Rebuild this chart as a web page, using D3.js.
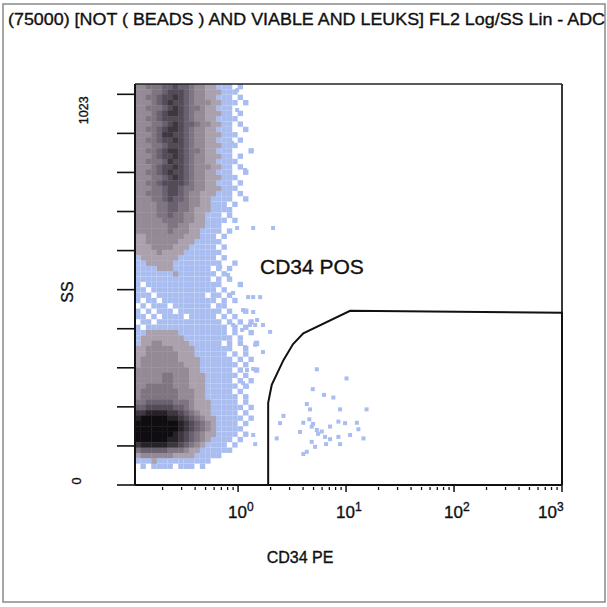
<!DOCTYPE html>
<html>
<head>
<meta charset="utf-8">
<script src="https://cdn.jsdelivr.net/npm/d3@7"></script>
<style>
  html, body { margin: 0; padding: 0; background: #fff; }
  svg { display: block; font-family: "Liberation Sans", Arial, sans-serif; }
  text { fill: #111; stroke: #111; stroke-width: 0.35px; }
</style>
</head>
<body>
<div id="chart"></div>
<script>
// chart texts
var title = "(75000) [NOT ( BEADS ) AND VIABLE AND LEUKS] FL2 Log/SS Lin - ADC";
var xLabel = "CD34 PE";
var yLabel = "SS";
var gateLabel = "CD34 POS";

// axes
var xDomain = [0.111, 1000];
var yDomain = [0, 1050];
var xMajorTicks = [1, 10, 100, 1000];
var xMajorLabels = ["0", "1", "2", "3"];          // exponents of 10
var yTicks = [0, 102.3, 204.6, 306.9, 409.2, 511.5, 613.8, 716.1, 818.4, 920.7, 1023];
var yTickLabels = { 0: "0", 1023: "1023" };

// density grid: each cell = 0.05 decade of CD34 PE x 14 SS channels, level 0..9
var gridLog0 = -0.954, gridDLog = 0.05, gridDSS = 14;
var density = [
  "334445565543322111010000",
  "333445666543322211100000",
  "334456676543322111010000",
  "333456766543332211101000",
  "334445676544322111000000",
  "333456776543322211010000",
  "334456666543322111100000",
  "333445676554332211010000",
  "334456776543322111001000",
  "333457766543322211100000",
  "334456676543322111010000",
  "333445666543322211100000",
  "334456776544322111000100",
  "333456676543322211010000",
  "334445766543322111100000",
  "333456676543332211010000",
  "334456766543322111001000",
  "333445676543322211100000",
  "334456666543322111010000",
  "333445665443322211100000",
  "334445665433222111010000",
  "333445655433221111001000",
  "333344554433221110100000",
  "333344554432221111000000",
  "333344544332211101000000",
  "333334444332211110100000",
  "333333443322211100000000",
  "333333433322111101000000",
  "223333333222111010000000",
  "223333332221111100000000",
  "222333322211111010000000",
  "222232222111111100000000",
  "122222221111111010000000",
  "112222211111111100100000",
  "111122211111110101000000",
  "111111121111111010000000",
  "111111111111110101000000",
  "101111111111111100010000",
  "110111111111111010000000",
  "111011111111101101000000",
  "101101111111111010100000",
  "010111011111110110000000",
  "101011101111111101001000",
  "110101111011111010100000",
  "011011111111111101010100",
  "101111111111111110101000",
  "112222221111111110100100",
  "122222222111111111010000",
  "122332222211111101010010",
  "223333322221111111001000",
  "223333332221111110101000",
  "233333332222111111010100",
  "233333333222111111101000",
  "333333333322111111010010",
  "333334433322211111101000",
  "333334433322211111010100",
  "334444433322211111101000",
  "344444443332211111010000",
  "344444443332211111101000",
  "445555544432221111101000",
  "556666655432221111110100",
  "778888776543221111101000",
  "899999887654322111110100",
  "999999998765432111101000",
  "999999998765432111110000",
  "999999987654322111101000",
  "999999887654321111010000",
  "788888776543211110100000",
  "455555444322111111000000",
  "233333322221111100000000",
  "111211111111110000000000",
  "010111101110100000000000",
  "000000000000000000000000",
  "000000000000000000000000",
  "000000000000000000000000"
];
var levelColors = [null, "#a9bdf0", "#aaa1ad", "#948a96", "#7f7581", "#696070", "#534b56", "#3d373f", "#262228", "#0f0d10"];

// single events outside the dense population
var eventX = [5.36, 10.1, 4.92, 6.25, 7.63, 4.33, 4.64, 8.80, 15.5, 2.63, 2.45, 4.02, 4.57, 4.81, 5.36, 5.96,
  7.11, 8.49, 9.79, 12.6, 13.0, 10.9, 14.5, 8.49, 7.11, 6.39, 4.81, 5.16, 4.33, 4.02, 8.80, 2.28, 4.95, 5.51,
  3.75, 6.53, 1.38, 1.60, 1.38, 1.44, 1.98, 1.44, 1.70, 1.38, 1.38, 1.44, 1.38, 2.11, 1.11, 1.50, 0.98,
  0.681, 0.808, 0.899, 1.24, 1.29, 0.899, 1.70, 1.09, 1.16, 1.21, 1.11, 1.21, 0.98, 0.98, 0.880, 1.16, 0.843, 0.843];
var eventY = [303, 279, 251, 236, 229, 212, 198, 198, 198, 181, 162, 163, 172, 153, 144, 140,
  153, 166, 162, 163, 146, 131, 122, 126, 120, 126, 113, 100, 87, 81, 107, 122, 160, 134,
  139, 107, 492, 492, 453, 419, 401, 367, 348, 304, 131, 107, 673, 673, 458, 432, 673,
  571, 550, 503, 492, 419, 419, 419, 406, 361, 301, 267, 257, 1034, 982, 896, 825, 780, 704];

// CD34 POS gate outline
var gateX = [1.9, 1.9, 1.98, 2.05, 2.63, 3.23, 4.02, 10.9, 1000, 1000];
var gateY = [0, 215, 241, 262, 327, 369, 397, 456, 451, 0];

var W = 607, H = 607;
var svg = d3.select("#chart").append("svg").attr("width", W).attr("height", H);

// outer frame + title
svg.append("rect").attr("x", 3).attr("y", 4).attr("width", 602).attr("height", 598)
  .attr("fill", "#fff").attr("stroke", "#8a8a8a").attr("stroke-width", 1.5);
svg.append("text").attr("x", 8).attr("y", 25).attr("font-size", 16.5)
  .attr("textLength", 597).attr("lengthAdjust", "spacingAndGlyphs").text(title);

var xScale = d3.scaleLog().domain(xDomain).range([135, 562]);
var yScale = d3.scaleLinear().domain(yDomain).range([485, 84]);

var plot = svg.append("g");

// density cells
density.forEach(function (row, i) {
  var r = density.length - 1 - i;
  row.split("").forEach(function (ch, c) {
    var lev = +ch;
    if (!lev) return;
    var x0 = xScale(Math.pow(10, gridLog0 + c * gridDLog));
    var x1 = xScale(Math.pow(10, gridLog0 + (c + 1) * gridDLog));
    var y0 = yScale((r + 1) * gridDSS), y1 = yScale(r * gridDSS);
    var pad = lev === 1 ? 0 : 0.4;
    plot.append("rect")
      .attr("x", x0).attr("y", y0)
      .attr("width", x1 - x0 + pad).attr("height", y1 - y0 + pad)
      .attr("fill", levelColors[lev]);
  });
});

// sparse events
plot.selectAll(".ev").data(eventX.map(function (x, i) { return [x, eventY[i]]; }))
  .enter().append("rect").attr("class", "ev")
  .attr("x", function (d) { return xScale(d[0]) - 2; })
  .attr("y", function (d) { return yScale(d[1]) - 2; })
  .attr("width", 4).attr("height", 4)
  .attr("fill", levelColors[1]);

// plot frame
var xr = xScale.range(), yr = yScale.range();
svg.append("line").attr("x1", xr[0]).attr("x2", xr[1]).attr("y1", yr[1]).attr("y2", yr[1])
  .attr("stroke", "#222").attr("stroke-width", 1.5);
svg.append("line").attr("x1", xr[1]).attr("x2", xr[1]).attr("y1", yr[1]).attr("y2", yr[0])
  .attr("stroke", "#222").attr("stroke-width", 1.8);
svg.append("line").attr("x1", xr[0]).attr("x2", xr[0]).attr("y1", yr[1]).attr("y2", yr[0])
  .attr("stroke", "#111").attr("stroke-width", 2);
svg.append("line").attr("x1", xr[0]).attr("x2", xr[1]).attr("y1", yr[0]).attr("y2", yr[0])
  .attr("stroke", "#111").attr("stroke-width", 2);

// y ticks (outside, left)
svg.selectAll(".ytick").data(yTicks).enter().append("line")
  .attr("x1", xr[0] - 18).attr("x2", xr[0])
  .attr("y1", function (d) { return yScale(d); }).attr("y2", function (d) { return yScale(d); })
  .attr("stroke", "#111").attr("stroke-width", 1.6);
svg.selectAll(".ylab").data(yTicks.filter(function (d) { return yTickLabels[d]; })).enter().append("text")
  .attr("transform", function (d) {
    return d === 0 ? "translate(81," + (yScale(d) - 4) + ") rotate(-90)"
                   : "translate(88," + (yScale(d) + 16) + ") rotate(-90)";
  })
  .attr("text-anchor", "middle").attr("font-size", 12.5)
  .text(function (d) { return yTickLabels[d]; });

// x ticks: minor from the log scale, majors longer
var minor = xScale.ticks().filter(function (d) { return xMajorTicks.indexOf(d) < 0; });
svg.selectAll(".xminor").data(minor).enter().append("line")
  .attr("x1", function (d) { return xScale(d); }).attr("x2", function (d) { return xScale(d); })
  .attr("y1", yr[0] + 2).attr("y2", yr[0] + 5)
  .attr("stroke", "#111").attr("stroke-width", 1.3);
svg.selectAll(".xmajor").data(xMajorTicks).enter().append("line")
  .attr("x1", function (d) { return xScale(d); }).attr("x2", function (d) { return xScale(d); })
  .attr("y1", yr[0]).attr("y2", yr[0] + 7)
  .attr("stroke", "#111").attr("stroke-width", 1.5);
var xl = svg.selectAll(".xlab").data(xMajorTicks).enter().append("text")
  .attr("x", function (d, i) { return xScale(d) - (i === xMajorTicks.length - 1 ? 24 : 10); })
  .attr("y", 518).attr("font-size", 17);
xl.append("tspan").text("10");
xl.append("tspan").attr("dy", -7).attr("font-size", 12).text(function (d, i) { return xMajorLabels[i]; });

// gate
var gateLine = d3.line().x(function (d) { return xScale(d[0]); }).y(function (d) { return yScale(d[1]); });
svg.append("path").attr("d", gateLine(gateX.map(function (x, i) { return [x, gateY[i]]; })))
  .attr("fill", "none").attr("stroke", "#111").attr("stroke-width", 2);
svg.append("text").attr("x", 260).attr("y", 274).attr("font-size", 21).text(gateLabel);

// axis titles
svg.append("text").attr("x", 300).attr("y", 563).attr("text-anchor", "middle")
  .attr("font-size", 16).text(xLabel);
svg.append("text").attr("transform", "translate(73,292) rotate(-90)").attr("text-anchor", "middle")
  .attr("font-size", 16).text(yLabel);
</script>
</body>
</html>
